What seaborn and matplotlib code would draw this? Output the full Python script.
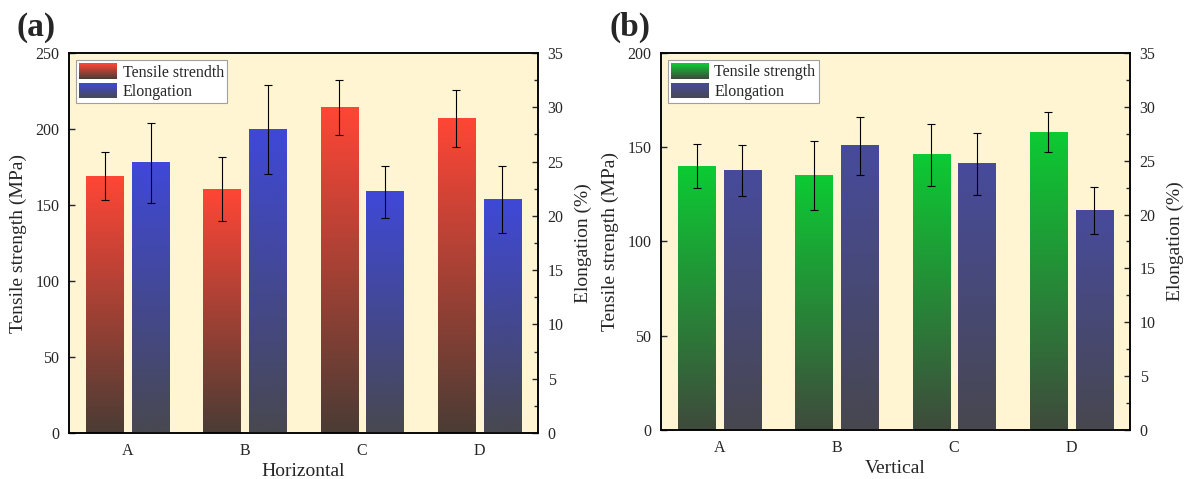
import numpy as np
import pandas as pd
import matplotlib
matplotlib.use("Agg")
import matplotlib.pyplot as plt
import seaborn as sns
from matplotlib.colors import LinearSegmentedColormap
from matplotlib.legend_handler import HandlerBase
from matplotlib.patches import Rectangle
from matplotlib.ticker import MultipleLocator

samples = ["A", "B", "C", "D"]

# (a) horizontal specimens
h_strength = [169, 160.5, 214, 207]
h_strength_err = [16, 21, 18, 19]
h_elong = [24.9, 28.0, 22.2, 21.5]
h_elong_err = [3.7, 4.1, 2.4, 3.1]

# (b) vertical specimens
v_strength = [140, 135, 146, 158]
v_strength_err = [11.5, 18.5, 16.5, 10.6]
v_elong = [24.1, 26.4, 24.7, 20.4]
v_elong_err = [2.35, 2.7, 2.85, 2.2]

sns.set_style("ticks")
plt.rcParams["font.family"] = ["Liberation Serif", "DejaVu Serif"]

BG = "#fff5d2"
cm_red = LinearSegmentedColormap.from_list("red", ["#4a3c34", "#ff4636"])
cm_blue = LinearSegmentedColormap.from_list("blue", ["#48484f", "#3f48d8"])
cm_green = LinearSegmentedColormap.from_list("green", ["#3f4a3c", "#0ccb33"])
cm_slate = LinearSegmentedColormap.from_list("slate", ["#47474f", "#474b9c"])


class GradientHandler(HandlerBase):
    """legend key drawn as a vertical gradient, like the bars"""
    def __init__(self, cmap, n=24):
        super().__init__()
        self.cmap = cmap
        self.n = n

    def create_artists(self, legend, orig_handle, xdescent, ydescent,
                       width, height, fontsize, trans):
        out = []
        for i in range(self.n):
            r = Rectangle((-xdescent, -ydescent + height * i / self.n), width,
                          height / self.n * 1.05,
                          facecolor=self.cmap((i + 0.5) / self.n),
                          edgecolor="none", transform=trans)
            out.append(r)
        return out


def gradient_bars(ax, cmap):
    grad = np.linspace(0, 1, 256).reshape(-1, 1)
    for bar in list(ax.patches):
        x, w, h = bar.get_x(), bar.get_width(), bar.get_height()
        ax.imshow(grad, extent=[x, x + w, 0, h], origin="lower", aspect="auto",
                  cmap=cmap, zorder=bar.get_zorder(), interpolation="bilinear")
        bar.set_facecolor("none")
        bar.set_edgecolor("none")


fig = plt.figure(figsize=(11.86, 4.79), dpi=100)


def panel(rect, strength, s_err, elong, e_err, cmap_s, cmap_e, s_max,
          xlabel, legend_label, tag, tag_x):
    ax = fig.add_axes(rect, facecolor=BG)
    ax2 = ax.twinx()
    pos = np.arange(len(samples))
    df_s = pd.DataFrame({"x": pos - 0.195, "y": strength})
    df_e = pd.DataFrame({"x": pos + 0.195, "y": elong})
    sns.barplot(data=df_s, x="x", y="y", native_scale=True, width=0.317,
                orient="x", errorbar=None, ax=ax)
    sns.barplot(data=df_e, x="x", y="y", native_scale=True, width=0.317,
                orient="x", errorbar=None, ax=ax2)
    gradient_bars(ax, cmap_s)
    gradient_bars(ax2, cmap_e)
    ax.errorbar(df_s["x"], strength, yerr=s_err, fmt="none", ecolor="black",
                elinewidth=0.8, capsize=3, capthick=0.8, zorder=5)
    ax2.errorbar(df_e["x"], elong, yerr=e_err, fmt="none", ecolor="black",
                 elinewidth=0.8, capsize=3, capthick=0.8, zorder=5)

    ax.set_xlim(-0.5, 3.5)
    ax.set_xticks(pos, samples)
    ax.set_ylim(0, s_max)
    ax2.set_ylim(0, 35)
    ax.yaxis.set_major_locator(MultipleLocator(50))
    ax2.yaxis.set_major_locator(MultipleLocator(5))
    ax2.yaxis.set_minor_locator(MultipleLocator(2.5))

    ax.tick_params(axis="y", direction="in", length=4.5, width=1, pad=7,
                   labelsize=11.5)
    ax.tick_params(axis="x", length=0, pad=7, labelsize=11.5)
    ax2.tick_params(axis="y", which="major", direction="in", length=4.5,
                    width=1, pad=7, labelsize=11.5)
    ax2.tick_params(axis="y", which="minor", direction="in", length=3, width=1)
    for a in (ax, ax2):
        for s in a.spines.values():
            s.set_visible(True)
            s.set_linewidth(1.1)
            s.set_color("black")

    ax.set_xlabel(xlabel, fontsize=14, labelpad=3)
    ax.set_ylabel("Tensile strength (MPa)", fontsize=14, labelpad=6)
    ax2.set_ylabel("Elongation (%)", fontsize=14, labelpad=8)

    proxies = [Rectangle((0, 0), 1, 1), Rectangle((0, 0), 1, 1)]
    leg = ax2.legend(proxies, [legend_label, "Elongation"], loc="upper left",
                     handler_map={proxies[0]: GradientHandler(cmap_s),
                                  proxies[1]: GradientHandler(cmap_e)},
                     fontsize=11.5, frameon=True, fancybox=False,
                     edgecolor="#a0a0a0", facecolor="white", framealpha=1,
                     handlelength=2.35, handleheight=1.1, labelspacing=0.15,
                     borderpad=0.2, handletextpad=0.35, borderaxespad=0.45)
    leg.get_frame().set_linewidth(0.8)

    fig.text(tag_x, 0.975, tag, fontsize=24, fontweight="bold", va="top")


panel([0.0582, 0.0960, 0.3954, 0.7933], h_strength, h_strength_err, h_elong,
      h_elong_err, cm_red, cm_blue, 250, "Horizontal", "Tensile strendth",
      "(a)", 0.014)
panel([0.5573, 0.1023, 0.3954, 0.7871], v_strength, v_strength_err, v_elong,
      v_elong_err, cm_green, cm_slate, 200, "Vertical", "Tensile strength",
      "(b)", 0.514)

fig.savefig("out.png", dpi=100)
